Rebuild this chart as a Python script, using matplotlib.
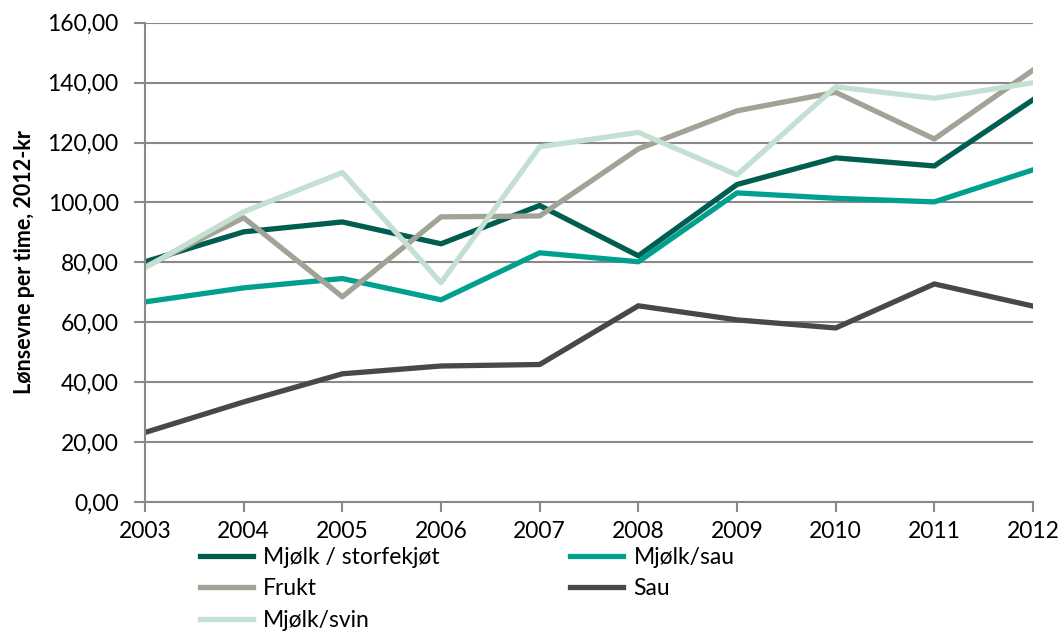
import matplotlib.pyplot as plt
from matplotlib.ticker import FuncFormatter

plt.rcParams['font.family'] = ['Lato', 'DejaVu Sans']

years = [2003, 2004, 2005, 2006, 2007, 2008, 2009, 2010, 2011, 2012]
storfe = [80.2, 90.2, 93.5, 86.2, 99.0, 82.2, 106.0, 114.9, 112.2, 134.3]
mjolk_sau = [66.8, 71.5, 74.6, 67.5, 83.2, 80.2, 103.2, 101.4, 100.2, 110.9]
frukt = [78.5, 94.9, 68.5, 95.2, 95.5, 117.9, 130.6, 136.8, 121.2, 144.2]
sau = [23.2, 33.4, 42.8, 45.4, 45.9, 65.5, 60.8, 58.1, 72.8, 65.4]
svin = [78.2, 96.9, 110.0, 73.2, 118.6, 123.4, 109.2, 138.6, 134.8, 140.0]

fig = plt.figure(figsize=(10.61, 6.33), dpi=100)
ax = fig.add_axes([0.1367, 0.207, 0.8369, 0.757])

lw = 3.8
l1, = ax.plot(years, storfe, color='#005e50', lw=lw, label='Mjølk / storfekjøt')
l2, = ax.plot(years, mjolk_sau, color='#00a08f', lw=lw, label='Mjølk/sau')
l3, = ax.plot(years, frukt, color='#a2a397', lw=lw, label='Frukt')
l4, = ax.plot(years, sau, color='#48484a', lw=lw, label='Sau')
l5, = ax.plot(years, svin, color='#c4e0d3', lw=lw, label='Mjølk/svin')

ax.set_xlim(2003, 2012)
ax.set_ylim(0, 160)
ax.set_yticks(range(0, 161, 20))
ax.set_xticks(years)
ax.yaxis.set_major_formatter(FuncFormatter(lambda v, p: f'{v:.2f}'.replace('.', ',')))
ax.grid(axis='y', color='#898989', lw=1.5)
ax.set_axisbelow(True)
for s in ['top', 'right']:
    ax.spines[s].set_visible(False)
for s in ['left', 'bottom']:
    ax.spines[s].set_color('#898989')
    ax.spines[s].set_linewidth(1.5)
ax.tick_params(axis='both', colors='#898989', labelcolor='black', labelsize=16.5, width=1.5)
ax.tick_params(axis='y', length=8, pad=11)
ax.tick_params(axis='x', length=7, pad=7)
ax.set_ylabel('Lønsevne per time, 2012-kr', fontsize=15.5, fontweight='bold', labelpad=9)

ax.legend([l1, l3, l5, l2, l4],
          ['Mjølk / storfekjøt', 'Frukt', 'Mjølk/svin', 'Mjølk/sau', 'Sau'],
          ncol=2, loc='upper left', bbox_to_anchor=(0.062, -0.094), frameon=False,
          fontsize=16.5, handlelength=2.3, handletextpad=0.45, columnspacing=5.7,
          labelspacing=0.45, borderaxespad=0, borderpad=0)

fig.savefig('out.png', dpi=100)
